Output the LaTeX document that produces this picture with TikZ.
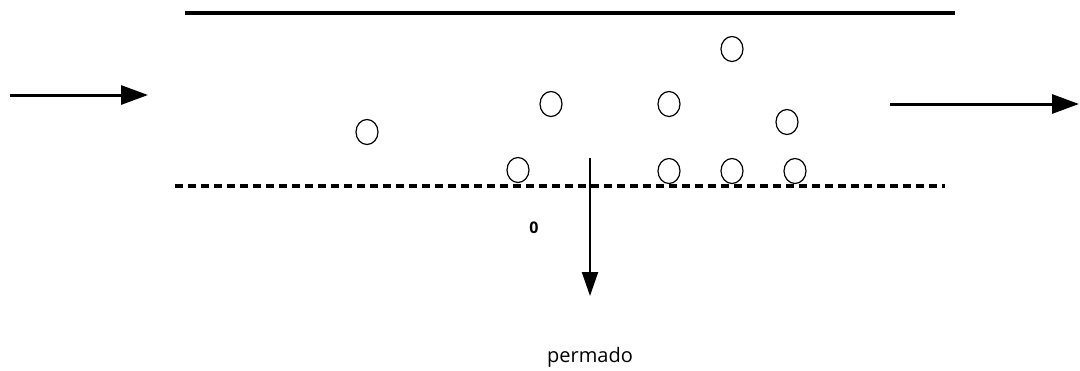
\documentclass[tikz,border=0pt]{standalone}
\usepackage{fontspec}
\setmainfont{Open Sans}
\usetikzlibrary{arrows.meta,shapes.geometric}
\begin{document}
\begin{tikzpicture}[x=1pt,y=-1pt,
  particle/.style={draw,line width=1.2pt,ellipse,minimum width=22pt,minimum height=25pt,inner sep=0pt},
  flow/.style={line width=3pt,-{Triangle[length=27pt,width=19pt]}},
  perm/.style={line width=2pt,-{Triangle[length=24pt,width=16pt]}}]
\useasboundingbox (0,0) rectangle (1080,370);
\coordinate (t1) at (185,13);
\coordinate (t2) at (955,13);
\draw[line width=3.5pt] (t1) -- (t2);
\coordinate (m1) at (175,186);
\coordinate (m2) at (945,186);
\draw[line width=3.5pt,dash pattern=on 8pt off 5pt] (m1) -- (m2);
\coordinate (a1) at (10,95);
\coordinate (a2) at (148,95);
\draw[flow] (a1) -- (a2);
\coordinate (b1) at (890,104);
\coordinate (b2) at (1079,104);
\draw[flow] (b1) -- (b2);
\coordinate (c1) at (590,158);
\coordinate (c2) at (590,296);
\draw[perm] (c1) -- (c2);
\foreach \n/\x/\y in {p1/367/132, p2/551/104, p3/669/104, p4/732/49, p5/787/122, p6/518/170, p7/669/171, p8/732/171, p9/795/171}
  \node[particle,fill=white] (\n) at (\x,\y) {};
\node[font=\bfseries\fontsize{16}{19}\selectfont] (zero) at (534,228) {0};
\node[font=\fontsize{20}{24}\selectfont] (permado) at (590,357) {permado};
\end{tikzpicture}
\end{document}
